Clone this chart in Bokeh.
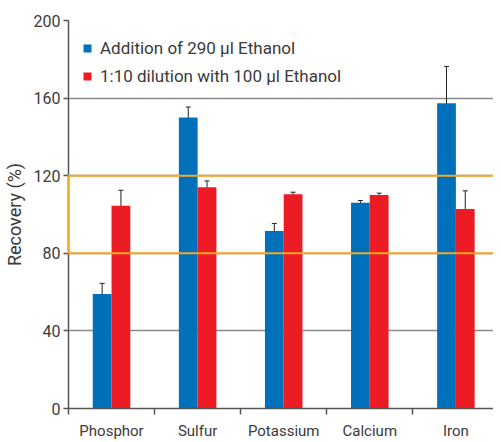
from bokeh.plotting import figure
from bokeh.models import Range1d, FixedTicker, Whisker, ColumnDataSource, Legend, LegendItem
from bokeh.embed import file_html
from bokeh.resources import INLINE

categories = ["Phosphor", "Sulfur", "Potassium", "Calcium", "Iron"]
ethanol_290 = [59.0, 150.0, 91.5, 106.0, 157.3]
ethanol_290_err = [5.5, 5.4, 3.9, 1.2, 19.0]
dilution_100 = [104.5, 114.0, 110.5, 110.0, 102.8]
dilution_100_err = [8.0, 3.3, 1.0, 1.0, 9.4]
y_ticks = [0, 40, 80, 120, 160, 200]
band_low, band_high = 80, 120
series_names = ["Addition of 290 µl Ethanol", "1:10 dilution with 100 µl Ethanol"]

BLUE = "#0070BA"
RED = "#ED1C24"
ORANGE = "#F5A623"
TEXT = "#3a3a3a"
AXIS = "#555555"
FONT = "Roboto"

bw = 0.218
centers = [i + 0.5 for i in range(len(categories))]
src_a = ColumnDataSource(dict(x=[c - bw / 2 for c in centers], top=ethanol_290,
                              up=[v + e for v, e in zip(ethanol_290, ethanol_290_err)],
                              lo=[v - e for v, e in zip(ethanol_290, ethanol_290_err)]))
src_b = ColumnDataSource(dict(x=[c + bw / 2 for c in centers], top=dilution_100,
                              up=[v + e for v, e in zip(dilution_100, dilution_100_err)],
                              lo=[v - e for v, e in zip(dilution_100, dilution_100_err)]))

p = figure(width=493, height=442, output_backend="svg", toolbar_location=None,
           x_range=Range1d(0, 4.937), y_range=Range1d(0, 200),
           min_border_left=62, min_border_right=0, min_border_top=20, min_border_bottom=20)
p.title.visible = False
p.outline_line_color = None
p.xgrid.grid_line_color = None
p.ygrid.grid_line_color = "#8a8a8a"
p.ygrid.grid_line_width = 1.5
p.ygrid.ticker = FixedTicker(ticks=y_ticks)

ra = p.vbar(x="x", top="top", width=bw, bottom=0, source=src_a, fill_color=BLUE, line_color=None)
rb = p.vbar(x="x", top="top", width=bw, bottom=0, source=src_b, fill_color=RED, line_color=None)

for s in (src_a, src_b):
    w = Whisker(base="x", upper="up", lower="lo", source=s, line_color="#222222", line_width=1)
    w.upper_head.size = 5
    w.lower_head.size = 5
    w.upper_head.line_color = "#222222"
    w.lower_head.line_color = "#222222"
    p.add_layout(w)

# acceptance band outline
p.quad(left=[0], right=[6], bottom=[band_low], top=[band_high], fill_color=None,
       line_color=ORANGE, line_width=2, level="overlay")

yax = p.yaxis[0]
xax = p.xaxis[0]

yax.ticker = FixedTicker(ticks=y_ticks)
yax.axis_label = "Recovery (%)"
yax.axis_label_text_font = FONT
yax.axis_label_text_font_style = "normal"
yax.axis_label_text_font_size = "18px"
yax.axis_label_text_color = TEXT
yax.axis_label_standoff = 6
yax.major_label_text_font = FONT
yax.major_label_text_font_size = "16px"
yax.major_label_text_color = TEXT
yax.major_tick_out = 5
yax.major_tick_in = 0
yax.major_tick_line_color = AXIS
yax.major_tick_line_width = 1.5
yax.minor_tick_line_color = None
yax.major_label_standoff = 3
yax.axis_line_color = AXIS
yax.axis_line_width = 1.5

xax.ticker = FixedTicker(ticks=centers, minor_ticks=[float(i) for i in range(len(categories))])
xax.major_label_overrides = {c: n for c, n in zip(centers, categories)}
xax.major_tick_line_color = None
xax.major_tick_out = 6
xax.major_tick_in = 0
xax.minor_tick_out = 6
xax.minor_tick_in = 0
xax.minor_tick_line_color = AXIS
xax.minor_tick_line_width = 1.5
xax.major_label_text_font = FONT
xax.major_label_text_font_size = "15px"
xax.major_label_text_color = TEXT
xax.major_label_standoff = 7
xax.axis_line_color = AXIS
xax.axis_line_width = 1.5

legend = Legend(items=[LegendItem(label=series_names[0], renderers=[ra]),
                       LegendItem(label=series_names[1], renderers=[rb])],
                location="top_left", border_line_color=None, background_fill_alpha=0,
                glyph_width=10, glyph_height=10, label_height=28, spacing=0,
                margin=14, padding=10, label_standoff=8,
                label_text_font=FONT, label_text_font_size="17px", label_text_color=TEXT)
p.add_layout(legend)

open("out.html", "w").write(file_html(p, INLINE))
